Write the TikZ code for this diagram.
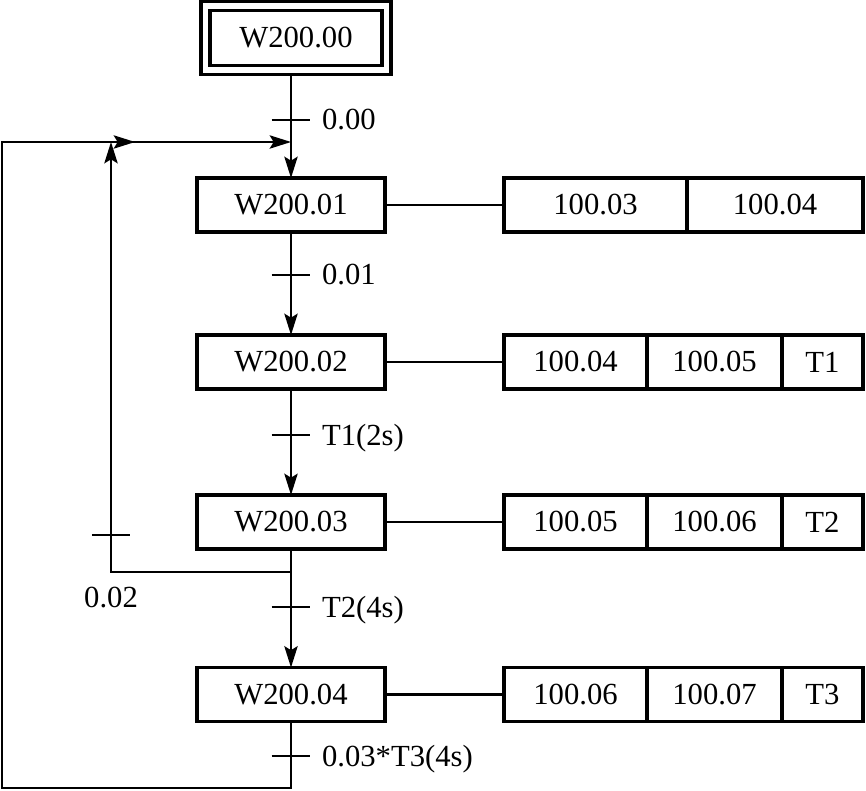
\documentclass[tikz,border=0pt]{standalone}
\usepackage{fontspec}
\setmainfont{Liberation Serif}
\usetikzlibrary{arrows.meta,positioning}

\begin{document}
\begin{tikzpicture}[x=0.75pt, y=-0.75pt, line width=1.6pt,
  every node/.style={font=\fontsize{23}{27}\selectfont},
  stepbox/.style={draw, line width=2.5pt, minimum width=141pt, minimum height=40.5pt, outer sep=0pt},
  cell/.style={draw, line width=2.5pt, minimum height=40.5pt, inner sep=0pt, outer sep=0pt},
  flow/.style={-{Stealth[length=16pt, width=10pt, inset=3pt]}}]
  \useasboundingbox (0,0) rectangle (866,791);

  % steps
  \node[draw, double, line width=2.4pt, double distance=4.4pt, minimum width=135.75pt,
        minimum height=48pt, outer sep=4.6pt] (s0) at (296,38) {W200.00};
  \node[stepbox] (s1) at (291,205)   {W200.01};
  \node[stepbox] (s2) at (291,362)   {W200.02};
  \node[stepbox] (s3) at (291,522)   {W200.03};
  \node[stepbox] (s4) at (291,694.5) {W200.04};

  % actions
  \node[cell, minimum width=137.25pt, anchor=west] (a11) at (504,205) {100.03};
  \node[cell, minimum width=132pt, right=0pt of a11] (a12) {100.04};

  \node[cell, minimum width=107.25pt, anchor=west] (a21) at (504,362) {100.04};
  \node[cell, minimum width=101.25pt, right=0pt of a21] (a22) {100.05};
  \node[cell, minimum width=60.75pt, right=0pt of a22] (a23) {T1};

  \node[cell, minimum width=107.25pt, anchor=west] (a31) at (504,522) {100.05};
  \node[cell, minimum width=101.25pt, right=0pt of a31] (a32) {100.06};
  \node[cell, minimum width=60.75pt, right=0pt of a32] (a33) {T2};

  \node[cell, minimum width=107.25pt, anchor=west] (a41) at (504,694.5) {100.06};
  \node[cell, minimum width=101.25pt, right=0pt of a41] (a42) {100.07};
  \node[cell, minimum width=60.75pt, right=0pt of a42] (a43) {T3};

  \foreach \i in {1,...,4} \draw (s\i) -- (a\i1);

  % loop points
  \coordinate (j1) at (111,142);
  \coordinate (j2) at (291,142);
  \coordinate (k1) at (135,142);
  \coordinate (lt) at (2,142);
  \coordinate (lb) at (2,788);
  \coordinate (r3) at (111,572);

  % transitions
  \coordinate (t0) at (291,120);
  \coordinate (t1) at (291,275);
  \coordinate (t2) at (291,435);
  \coordinate (t3) at (291,607);
  \coordinate (t4) at (291,756);
  \coordinate (t5) at (111,535);

  \draw[flow] (s1.north |- s0.south) -- (s1.north);
  \draw[flow] (s1) -- (s2);
  \draw[flow] (s2) -- (s3);
  \draw[flow] (s3) -- (s4);

  \draw[flow] (s3.south) |- (r3) -- (j1);
  \draw[flow] (j1) -- (j2);
  \draw[flow] (s4.south) |- (lb) -- (lt) -- (k1);

  \foreach \t/\lab in {t0/0.00, t1/0.01, t2/T1(2s), t3/T2(4s), t4/0.03*T3(4s)} {
    \draw ([xshift=-14.6pt]\t) -- ([xshift=14.6pt]\t);
    \node[anchor=base west, inner sep=0pt] at ([xshift=22.5pt, yshift=-7.5pt]\t) {\lab};
  }
  \draw ([xshift=-14.3pt]t5) -- ([xshift=14.3pt]t5);
  \node[inner sep=0pt] at (111,598) {0.02};
\end{tikzpicture}
\end{document}
